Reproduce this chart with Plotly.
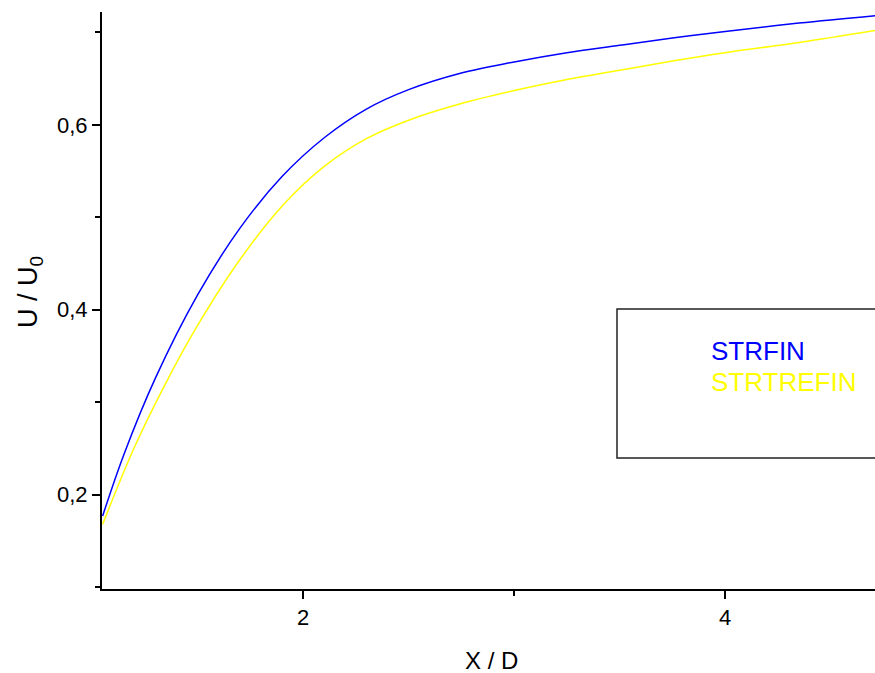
import plotly.graph_objects as go

# Data
x_strfin = [1.05, 1.15, 1.30, 1.50, 1.70, 1.90, 2.10, 2.30, 2.50, 2.75,
            3.00, 3.25, 3.50, 3.75, 4.00, 4.35, 4.711]
y_strfin = [0.177, 0.243, 0.326, 0.416, 0.488, 0.544, 0.586, 0.617, 0.638, 0.656,
            0.668, 0.678, 0.686, 0.694, 0.701, 0.710, 0.718]

x_strtrefin = [1.05, 1.20, 1.35, 1.50, 1.70, 1.90, 2.10, 2.30, 2.50, 2.75,
               3.00, 3.25, 3.50, 3.75, 4.00, 4.35, 4.711]
y_strtrefin = [0.168, 0.251, 0.321, 0.383, 0.454, 0.512, 0.555, 0.585, 0.605, 0.623,
               0.637, 0.649, 0.659, 0.669, 0.678, 0.689, 0.702]

series_names = ["STRFIN", "STRTREFIN"]
series_colors = ["#0000FF", "#FFFF00"]

x_ticks = [2, 4]
y_ticks = [0.2, 0.4, 0.6]
y_tick_labels = ["0,2", "0,4", "0,6"]

fig = go.Figure()
for xs, ys, name, col in [(x_strfin, y_strfin, series_names[0], series_colors[0]),
                          (x_strtrefin, y_strtrefin, series_names[1], series_colors[1])]:
    fig.add_trace(go.Scatter(x=xs, y=ys, mode="lines", name=name,
                             line=dict(color=col, width=1.5, shape="spline", smoothing=1.0),
                             showlegend=False, cliponaxis=True))

W, H = 875, 673
L, R, T, B = 102, 0, 12, 84
pw, ph = W - L - R, H - T - B

def px(xp):
    return (xp - L) / pw

def py(yp):
    return (H - B - yp) / ph

font_family = "Arial, Liberation Sans, sans-serif"

fig.update_layout(
    width=W, height=H,
    margin=dict(l=L, r=R, t=T, b=B, pad=0),
    paper_bgcolor="white", plot_bgcolor="white",
    font=dict(family=font_family, color="black", size=22),
    xaxis=dict(range=[1.047, 4.71], showgrid=False, zeroline=False,
               showline=True, linecolor="black", linewidth=2,
               ticks="outside", ticklen=8, tickwidth=2, tickcolor="black",
               tickvals=x_ticks, ticktext=[str(v) for v in x_ticks],
               tickfont=dict(size=22, family=font_family, color="black"),
               minor=dict(dtick=1, tick0=0, ticks="outside", ticklen=5, tickwidth=2, tickcolor="black")),
    yaxis=dict(range=[0.098, 0.722], showgrid=False, zeroline=False,
               showline=True, linecolor="black", linewidth=2,
               ticks="outside", ticklen=8, tickwidth=2, tickcolor="black",
               tickvals=y_ticks, ticktext=y_tick_labels,
               tickfont=dict(size=22, family=font_family, color="black"),
               minor=dict(dtick=0.1, tick0=0.1, ticks="outside", ticklen=5, tickwidth=2, tickcolor="black")),
)

# Legend box (text-only, extends beyond right edge)
fig.add_shape(type="rect", xref="paper", yref="paper",
              x0=px(617), x1=1.05, y0=py(458), y1=py(309),
              line=dict(color="#222222", width=1.5), fillcolor="rgba(0,0,0,0)")
fig.add_annotation(xref="paper", yref="paper", x=px(709), y=py(351),
                   xanchor="left", yanchor="middle", showarrow=False,
                   text=series_names[0], font=dict(size=26, color=series_colors[0]))
fig.add_annotation(xref="paper", yref="paper", x=px(709), y=py(382),
                   xanchor="left", yanchor="middle", showarrow=False,
                   text=series_names[1], font=dict(size=26, color=series_colors[1]))

# Axis titles
fig.add_annotation(xref="paper", yref="paper", x=px(491), y=py(660),
                   xanchor="center", yanchor="middle", showarrow=False,
                   text="X / D", font=dict(size=24))
fig.add_annotation(xref="paper", yref="paper", x=px(30), y=py(292),
                   xanchor="center", yanchor="middle", showarrow=False, textangle=-90,
                   text="U / U<sub>0</sub>", font=dict(size=27))

fig.write_html("out.html")
